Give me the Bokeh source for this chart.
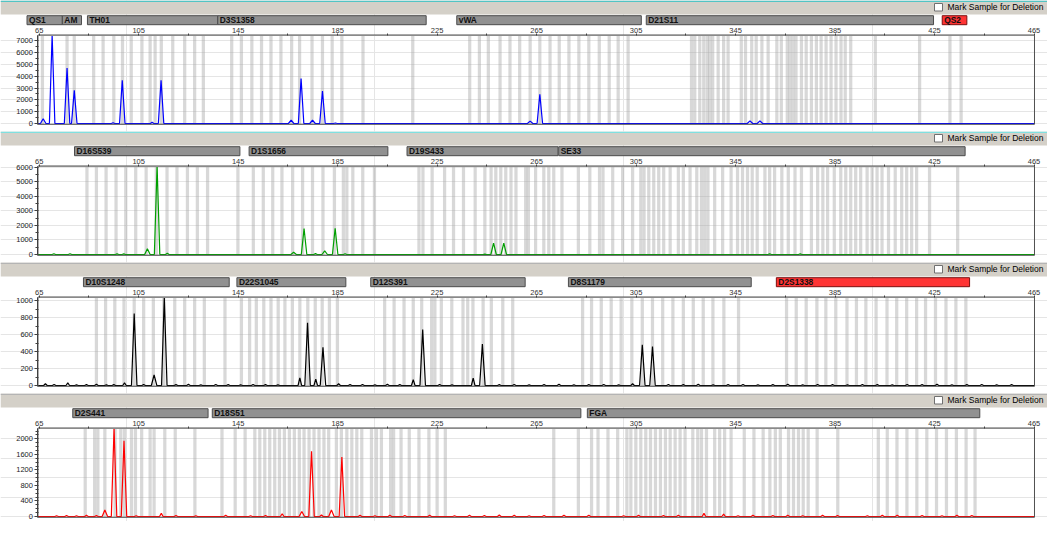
from bokeh.plotting import figure
from bokeh.layouts import column
from bokeh.models import Range1d, FixedTicker, LinearAxis, ColumnDataSource
from bokeh.core.properties import value
from bokeh.embed import file_html
from bokeh.resources import INLINE

# ---------------- data ----------------
size_major = [65, 105, 145, 185, 225, 265, 305, 345, 385, 425, 465]
size_minor = [85, 125, 165, 205, 245, 285, 325, 365, 405, 445]

# panel 1 (blue)
blue_markers = ["QS1", "AM", "TH01", "D3S1358", "vWA", "D21S11", "QS2"]
blue_marker_start = [60.1, 74.3, 84.4, 136.8, 232.9, 309.1, 428.1]
blue_marker_end = [74.3, 82.0, 136.8, 220.6, 307.1, 424.6, 438.0]
blue_marker_flag = [False, False, False, False, False, False, True]
blue_bins = [66.3, 76.2, 79.1, 86.9, 90.7, 95.0, 98.5, 102.0, 106.3, 109.6, 111.6, 114.1,
             118.7, 123.5, 127.5, 131.0, 142.4, 146.3, 150.5, 154.4, 158.2, 162.2, 166.5,
             169.7, 174.7, 178.9, 182.8, 186.7, 195.2, 215.2, 238.1, 242.0, 245.6, 250.3,
             254.3, 258.2, 262.4, 266.3, 270.4, 274.1, 278.0, 282.0, 286.0, 290.2, 294.2,
             297.8, 301.8, 327.3, 328.6, 330.6, 332.2, 333.6, 334.6, 335.8, 338.0, 340.2,
             342.0, 347.3, 349.0, 351.5, 353.3, 355.6, 358.1, 361.6, 363.4, 365.8, 366.9,
             368.1, 369.3, 371.5, 373.4, 375.5, 377.5, 379.4, 381.4, 383.4, 385.4, 387.4,
             389.1, 391.3, 401.2, 419.0, 431.2, 435.7]
blue_peak_bp = [66.6, 70.2, 76.2, 79.1, 94.7, 98.4, 110.4, 114.0, 166.3, 170.3, 174.9,
                178.9, 184.1, 262.4, 266.3, 350.8, 354.8]
blue_peak_rfu = [400, 7600, 4700, 2800, 60, 3650, 100, 3650, 280, 3800, 280,
                 2750, 40, 200, 2470, 220, 220]
blue_yticks = [0, 1000, 2000, 3000, 4000, 5000, 6000, 7000]
blue_yminor = [500, 1500, 2500, 3500, 4500, 5500, 6500]
blue_ymax = 7490

# panel 2 (green)
green_markers = ["D16S539", "D1S1656", "D19S433", "SE33"]
green_marker_start = [79.2, 149.4, 212.9, 273.9]
green_marker_end = [145.7, 205.2, 273.6, 437.3]
green_marker_flag = [False, False, False, False]
green_bins = [84.2, 88.0, 91.9, 95.9, 99.8, 103.8, 108.0, 112.1, 116.4, 120.4, 124.6, 128.6,
              132.7, 144.9, 151.1, 155.1, 158.9, 162.6, 166.9, 170.9, 174.9, 179.1, 183.7,
              187.3, 188.7, 191.1, 195.1, 199.8, 217.7, 219.3, 223.0, 228.0, 231.6, 235.6,
              240.3, 244.2, 246.7, 248.6, 250.6, 252.6, 254.7, 256.7, 260.6, 261.7, 264.6,
              267.9, 269.9, 271.9, 275.2, 281.8, 286.4, 290.3, 291.7, 295.6, 299.6, 303.6,
              306.9, 308.2, 310.1, 312.1, 314.1, 316.1, 318.7, 322.0, 324.0, 326.7, 329.4,
              331.3, 332.6, 333.9, 336.6, 339.8, 343.2, 345.8, 347.8, 349.8, 351.7, 353.7,
              356.8, 358.7, 360.7, 363.6, 366.2, 368.9, 371.5, 375.5, 378.0, 380.1, 382.0,
              384.7, 387.3, 389.3, 391.3, 393.3, 395.3, 397.9, 399.9, 401.9, 403.9, 406.5,
              409.2, 411.8, 413.8, 415.8, 417.8, 423.0, 434.3]
green_peak_bp = [70.9, 77.4, 96.3, 99.0, 108.5, 112.4, 116.5, 167.3, 171.5, 176.1, 179.8,
                 184.0, 188.0, 244.2, 247.7, 251.8, 358.7, 371.0]
green_peak_rfu = [50, 50, 40, 40, 400, 6200, 80, 150, 1780, 60, 250,
                  1800, 50, 30, 780, 780, 40, 40]
green_yticks = [0, 1000, 2000, 3000, 4000, 5000, 6000]
green_yminor = [500, 1500, 2500, 3500, 4500, 5500]
green_ymax = 6070

# panel 3 (black)
black_markers = ["D10S1248", "D22S1045", "D12S391", "D8S1179", "D2S1338"]
black_marker_start = [82.8, 144.5, 198.3, 277.8, 361.4]
black_marker_end = [141.4, 188.3, 260.4, 351.3, 439.1]
black_marker_flag = [False, False, False, False, True]
black_bins = [88.0, 91.7, 95.4, 99.1, 103.2, 107.0, 110.9, 115.1, 119.5, 123.5, 127.5, 131.4,
              139.7, 146.3, 149.6, 152.3, 155.3, 158.2, 161.1, 163.8, 166.8, 169.8, 173.0,
              176.0, 178.8, 181.7, 184.9, 203.9, 207.7, 211.7, 215.4, 218.8, 222.8, 224.1,
              226.7, 230.9, 235.4, 237.3, 239.4, 243.5, 246.8, 251.4, 255.4, 283.5, 287.1,
              291.0, 295.0, 299.0, 303.3, 307.5, 311.6, 315.7, 319.8, 324.0, 328.0, 332.0,
              335.9, 340.3, 346.2, 365.5, 369.4, 373.4, 377.7, 381.3, 385.3, 389.8, 393.6,
              397.4, 401.5, 405.9, 409.8, 413.8, 417.8, 421.4, 425.4, 429.6, 433.6, 437.6]
black_peak_bp = [67.5, 76.5, 99.3, 103.2, 111.2, 115.3, 169.8, 172.9, 176.2, 179.1, 185.4,
                 215.4, 219.2, 239.5, 243.2, 303.6, 307.5, 311.6,
                 71, 80, 84, 88, 92, 95, 107, 120, 125, 130, 136, 141, 146, 151, 156, 161,
                 190, 195, 200, 205, 210, 226, 231, 250, 256, 262, 268, 274, 280, 286, 292,
                 298, 318, 324, 330, 336, 342, 348, 354, 360, 366, 372, 378, 384, 390, 396,
                 402, 408, 414, 420, 426, 432, 438, 444, 450, 456]
black_peak_rfu = [20, 30, 30, 850, 125, 1060, 90, 740, 75, 450, 20,
                  70, 660, 88, 490, 20, 480, 460,
                  12, 8, 10, 14, 8, 10, 12, 10, 14, 8, 12, 10, 8, 12, 10, 8,
                  10, 12, 8, 14, 10, 12, 8, 10, 12, 8, 10, 14, 8, 10, 12,
                  8, 12, 10, 14, 8, 10, 12, 8, 10, 14, 8, 12, 10, 8, 12,
                  10, 8, 12, 10, 14, 8, 10, 12, 8, 10]
black_yticks = [0, 200, 400, 600, 800, 1000]
black_yminor = [100, 300, 500, 700, 900]
black_ymax = 1045

# panel 4 (red)
red_markers = ["D2S441", "D18S51", "FGA"]
red_marker_start = [78.5, 134.6, 285.4]
red_marker_end = [132.9, 282.8, 443.2]
red_marker_flag = [False, False, False]
red_bins = [83.5, 87.3, 88.6, 91.4, 95.5, 97.8, 99.3, 102.1, 103.7, 106.2, 109.6, 111.2,
            115.5, 119.7, 127.6, 138.5, 143.8, 147.8, 151.7, 153.7, 155.7, 157.7, 159.7,
            161.6, 163.6, 165.6, 167.6, 169.6, 171.5, 173.5, 175.5, 177.5, 179.5, 181.4,
            184.5, 186.5, 188.7, 190.7, 192.7, 194.7, 198.6, 200.6, 202.6, 206.3, 207.5,
            210.5, 213.8, 217.7, 221.7, 225.0, 228.3, 271.9, 281.8, 287.1, 289.7, 293.7,
            297.6, 301.3, 302.9, 304.9, 306.9, 308.9, 310.8, 312.8, 314.8, 316.8, 318.7,
            320.7, 322.7, 324.7, 327.8, 329.8, 331.3, 333.3, 336.6, 338.6, 340.6, 343.2,
            348.5, 352.4, 356.1, 358.8, 361.0, 363.0, 366.3, 368.3, 370.3, 372.2, 374.2,
            377.8, 386.1, 402.4, 406.0, 409.9, 413.9, 417.9, 421.9, 425.8, 429.8, 433.8,
            437.7, 441.3]
red_peak_bp = [91.4, 95.1, 99.1, 114.1, 162.7, 170.6, 174.5, 178.5, 182.5, 186.7, 332.3, 340.2,
               72, 76, 80, 84, 88, 104, 120, 128, 140, 150, 156, 194, 200, 206, 212, 222,
               232, 238, 244, 250, 256, 262, 268, 276, 286, 300, 306, 316, 322, 346, 352,
               360, 366, 372, 380, 386, 398, 404, 410, 420, 428, 434, 440]
red_peak_rfu = [170, 2350, 1950, 85, 70, 130, 1680, 40, 170, 1530, 80, 60,
                20, 25, 20, 30, 25, 20, 25, 20, 30, 20, 25, 30, 20, 35, 25, 30,
                20, 35, 25, 40, 30, 20, 25, 30, 35, 20, 30, 25, 35, 20, 30,
                25, 35, 20, 30, 25, 20, 30, 35, 25, 20, 30, 25]
red_yticks = [0, 400, 800, 1200, 1600, 2000]
red_yminor = [100, 200, 300, 500, 600, 700, 900, 1000, 1100, 1300, 1400, 1500, 1700, 1800,
              1900, 2100, 2200]
red_ymax = 2280

# ---------------- layout constants ----------------
W = 1047
S = 2.487            # pixels per bp
X65 = 38.7           # pixel position of 65 bp
FULL0 = 65 - X65 / S
FULL1 = FULL0 + W / S
BP0, BP1 = 64.5, 465.2
TOP_PX, BASE_PX = 34.5, 123.0
FONT = "Liberation Sans"


def trace_xy(bps, rfus, ymax, halfw=1.1):
    pts = sorted(zip(bps, rfus))
    xs, ys = [BP0], [0.0]
    for b, h in pts:
        w = halfw if h > 100 else halfw * 0.65
        xs += [b - w, b, b + w]
        ys += [0, min(h, ymax), 0]
    xs.append(BP1)
    ys.append(0)
    return xs, ys


def panel(H, top_color, names, starts, ends, flags, bins, pk_bp, pk_rfu, color,
          yticks, yminor, ymax):
    r = ymax / (BASE_PX - TOP_PX)
    ylo = -0.8 * r
    y_top = ymax + TOP_PX * r
    y_bot = -(H - BASE_PX) * r
    p = figure(width=W, height=H, x_range=Range1d(FULL0, FULL1),
               y_range=Range1d(y_bot, y_top), toolbar_location=None,
               x_axis_location=None, y_axis_location=None, title_location=None,
               output_backend="svg", min_border=0, outline_line_color=None,
               background_fill_color="white", border_fill_color="white")
    p.extra_x_ranges = {"px": Range1d(0, W)}
    p.extra_y_ranges = {"hdr": Range1d(H, 0)}

    # header band
    p.quad(left=[0], right=[W], top=[0], bottom=[14], x_range_name="px", y_range_name="hdr",
           fill_color="#d4d0c8", line_color=None)
    p.quad(left=[0], right=[W], top=[0], bottom=[1.6], x_range_name="px", y_range_name="hdr",
           fill_color=top_color, line_color=None)
    p.quad(left=[934], right=[942], top=[3], bottom=[10.5], x_range_name="px",
           y_range_name="hdr", fill_color="white", line_color="#707070", line_width=1)
    p.text(x=[947], y=[6.8], text=["Mark Sample for Deletion"], x_range_name="px",
           y_range_name="hdr", text_baseline="middle", text_align="left",
           text_font=value(FONT), text_font_size="8.5px", text_color="#000000")

    # marker boxes
    fills = ["#ff3434" if f else "#919191" for f in flags]
    lines = ["#7a1010" if f else "#4c4c4c" for f in flags]
    src = ColumnDataSource(dict(left=starts, right=ends, name=names, fill=fills, line=lines))
    p.quad(left="left", right="right", top=15.2, bottom=24.2, y_range_name="hdr",
           fill_color="fill", line_color="line", line_width=1, source=src)
    p.text(x="left", y=19.9, text="name", source=src, x_offset=2, y_range_name="hdr",
           text_baseline="middle", text_align="left", text_font=value(FONT),
           text_font_style="bold", text_font_size="8.4px", text_color="#101010")

    # bins, trace, plot outline
    p.vbar(x=bins, width=1.3, bottom=ylo, top=ymax, fill_color="#a6a6a6",
           fill_alpha=0.44, line_color=None)
    xs, ys = trace_xy(pk_bp, pk_rfu, ymax)
    p.line(xs, ys, line_color=color, line_width=1.2)
    p.quad(left=[BP0], right=[BP1], bottom=[ylo], top=[ymax], fill_color=None,
           line_color="#505050", line_width=1)

    xa = LinearAxis(fixed_location=ymax, bounds=(BP0, BP1),
                    ticker=FixedTicker(ticks=size_major, minor_ticks=size_minor))
    xa.axis_line_color = "#8a8a8a"
    xa.major_tick_line_color = "#404040"
    xa.minor_tick_line_color = "#404040"
    xa.major_tick_in = 0
    xa.major_tick_out = 2
    xa.minor_tick_in = 0
    xa.minor_tick_out = 2
    xa.major_label_standoff = 0
    xa.major_label_text_font = FONT
    xa.major_label_text_font_size = "7.5px"
    xa.major_label_text_color = "#333333"
    p.add_layout(xa, "above")

    ya = LinearAxis(fixed_location=BP0, bounds=(ylo, ymax),
                    ticker=FixedTicker(ticks=yticks, minor_ticks=yminor))
    ya.axis_line_color = "#404040"
    ya.major_tick_line_color = "#404040"
    ya.minor_tick_line_color = "#404040"
    ya.major_tick_in = 1
    ya.major_tick_out = 3
    ya.minor_tick_in = 1
    ya.minor_tick_out = 2
    ya.major_label_standoff = 2
    ya.major_label_text_font = FONT
    ya.major_label_text_font_size = "7.5px"
    ya.major_label_text_color = "#222222"
    p.add_layout(ya, "left")
    return p


figs = [
    panel(131, "#52c4c4", blue_markers, blue_marker_start, blue_marker_end, blue_marker_flag,
          blue_bins, blue_peak_bp, blue_peak_rfu, "#0000ff", blue_yticks, blue_yminor, blue_ymax),
    panel(131, "#7fe0e0", green_markers, green_marker_start, green_marker_end, green_marker_flag,
          green_bins, green_peak_bp, green_peak_rfu, "#00a000", green_yticks, green_yminor,
          green_ymax),
    panel(131, "#b4b4b4", black_markers, black_marker_start, black_marker_end, black_marker_flag,
          black_bins, black_peak_bp, black_peak_rfu, "#000000", black_yticks, black_yminor,
          black_ymax),
    panel(128, "#b4b4b4", red_markers, red_marker_start, red_marker_end, red_marker_flag,
          red_bins, red_peak_bp, red_peak_rfu, "#ff0000", red_yticks, red_yminor, red_ymax),
]

layout = column(figs, spacing=0)
open("out.html", "w").write(file_html(layout, INLINE))
